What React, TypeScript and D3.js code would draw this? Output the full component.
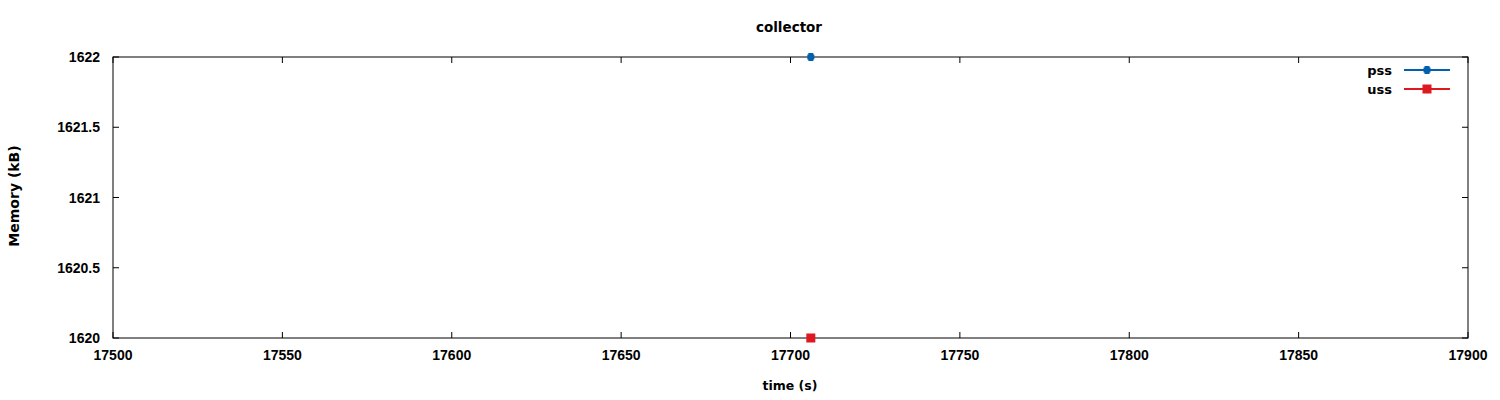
import React from "react";
import * as d3 from "d3";

const seriesNames = ["pss", "uss"];
const seriesColors = ["#0060ad", "#dd181f"];
const pssTime = [17706];
const pssValues = [1622];
const ussTime = [17706];
const ussValues = [1620];
const xTicks = [17500, 17550, 17600, 17650, 17700, 17750, 17800, 17850, 17900];
const yTicks = [1620, 1620.5, 1621, 1621.5, 1622];

export default function App() {
  const W = 1500, H = 400;
  const m = { left: 113, right: 1468, top: 57, bottom: 338 };
  const x = d3.scaleLinear().domain([17500, 17900]).range([m.left, m.right]);
  const y = d3.scaleLinear().domain([1620, 1622]).range([m.bottom, m.top]);
  const wordFont = "DejaVu Sans, sans-serif";
  const numFont = "Liberation Sans, Arial, sans-serif";
  const tl = 6;
  const series = [
    { t: pssTime, v: pssValues },
    { t: ussTime, v: ussValues },
  ];
  const line = d3.line<[number, number]>().x(d => x(d[0])).y(d => y(d[1]));
  const marker = (i: number, cx: number, cy: number, key: string) =>
    i === 0 ? (
      <g key={key} fill={seriesColors[0]}>
        <rect x={cx - 2.5} y={cy - 4} width={5} height={8} />
        <rect x={cx - 3.5} y={cy - 2.5} width={7} height={5} />
      </g>
    ) : (
      <rect key={key} x={cx - 4.5} y={cy - 4.5} width={9} height={9} fill={seriesColors[1]} />
    );
  return (
    <svg width={W} height={H} style={{ position: "absolute", left: 0, top: 0, background: "#fff" }} fontWeight="bold">
      <rect width={W} height={H} fill="#fff" />
      <text x={789} y={32} textAnchor="middle" fontFamily={wordFont} fontSize={13.5}>collector</text>
      {yTicks.map(t => (
        <g key={"y" + t}>
          <line x1={m.left} x2={m.left + tl} y1={y(t)} y2={y(t)} stroke="#000" />
          <line x1={m.right} x2={m.right - tl} y1={y(t)} y2={y(t)} stroke="#000" />
          <text x={100} y={y(t) + 5} textAnchor="end" fontFamily={numFont} fontSize={14}>{t}</text>
        </g>
      ))}
      {xTicks.map(t => (
        <g key={"x" + t}>
          <line x1={x(t)} x2={x(t)} y1={m.bottom} y2={m.bottom - tl} stroke="#000" />
          <line x1={x(t)} x2={x(t)} y1={m.top} y2={m.top + tl} stroke="#000" />
          <text x={x(t)} y={360} textAnchor="middle" fontFamily={numFont} fontSize={14}>{t}</text>
        </g>
      ))}
      <rect x={m.left} y={m.top} width={m.right - m.left} height={m.bottom - m.top} fill="none" stroke="#000" />
      <text x={790} y={390} textAnchor="middle" fontFamily={wordFont} fontSize={12.5}>time (s)</text>
      <text transform={`translate(19,196) rotate(-90)`} textAnchor="middle" fontFamily={wordFont} fontSize={14}>Memory (kB)</text>
      {series.map((s, i) => {
        const pts = s.t.map((t, j) => [t, s.v[j]] as [number, number]);
        return (
          <g key={seriesNames[i]}>
            <path d={line(pts) || ""} fill="none" stroke={seriesColors[i]} strokeWidth={2} />
            {pts.map((p, j) => marker(i, x(p[0]), y(p[1]), "m" + i + j))}
          </g>
        );
      })}
      {seriesNames.map((n, i) => {
        const ly = 70 + i * 19;
        return (
          <g key={"l" + n}>
            <text x={1392} y={ly + 4.5} textAnchor="end" fontFamily={wordFont} fontSize={13}>{n}</text>
            <line x1={1404} x2={1450} y1={ly} y2={ly} stroke={seriesColors[i]} strokeWidth={2} />
            {marker(i, 1427, ly, "lm" + i)}
          </g>
        );
      })}
    </svg>
  );
}
